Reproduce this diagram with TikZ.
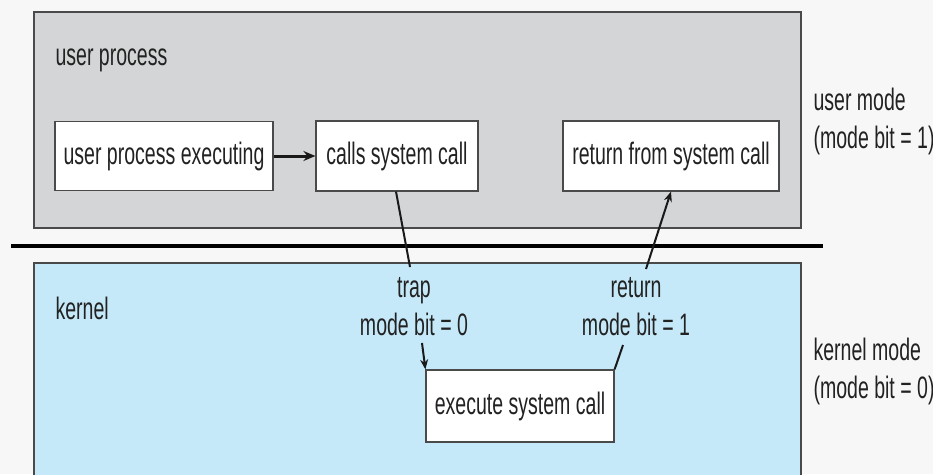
\documentclass[tikz,border=0pt]{standalone}
\usepackage{fontspec}
\setmainfont[FakeStretch=0.63]{Liberation Sans}
\usetikzlibrary{arrows.meta}
\definecolor{usergray}{HTML}{D4D5D6}
\definecolor{kernblue}{HTML}{C6E9F9}
\definecolor{edgegray}{HTML}{4A4A4A}
\definecolor{txt}{HTML}{222222}
\tikzset{
  txtstyle/.style={text=txt, font=\fontsize{31}{38}\selectfont},
  box/.style={draw=edgegray, line width=1.2pt, fill=white, inner sep=0pt, txtstyle},
  region/.style={draw=edgegray, line width=1.2pt},
  conn/.style={draw=black!90, line width=2pt},
  connarrow/.style={conn, -{Stealth[length=10pt,width=8pt]}},
}
\begin{document}
\begin{tikzpicture}[x=1pt,y=-1pt]
\useasboundingbox (0,0) rectangle (933,474);
\clip (0,0) rectangle (933,474);
\fill[white!97!black] (0,0) rectangle (933,474);
% regions
\draw[region, fill=usergray] (34,12) rectangle (801,228);
\draw[region, fill=kernblue] (34,263) rectangle (801,490);
\draw[line width=4pt, black] (11,246) -- (823,246);
% labels
\node[txtstyle, anchor=west] (up) at (52,60) {user process};
\node[txtstyle, anchor=west] (kn) at (52,308) {kernel};
\node[txtstyle, anchor=west, align=left] (um) at (810,121) {user mode\\(mode bit = 1)};
\node[txtstyle, anchor=west, align=left] (km) at (810,371) {kernel mode\\(mode bit = 0)};
% boxes
\node[box, minimum width=218pt, minimum height=69pt] (b1) at (164,156) {user process executing};
\node[box, minimum width=162pt, minimum height=70pt] (b2) at (397,156) {calls system call};
\node[box, minimum width=216pt, minimum height=70pt] (b3) at (671,156) {return from system call};
\node[box, minimum width=188pt, minimum height=72pt] (b4) at (520,406) {execute system call};
% trap / return labels
\node[txtstyle, align=center] (trap) at (414,307) {trap\\mode bit = 0};
\node[txtstyle, align=center] (ret) at (636,307) {return\\mode bit = 1};
\coordinate (t1) at (410,267);
\coordinate (t2) at (422,343);
\coordinate (r1) at (623,345);
\coordinate (r2) at (646,269);
% connectors
\draw[conn, line width=3pt, -{Stealth[length=12pt,width=10pt]}] (b1.east) -- (b2.west);
\draw[conn] ([xshift=-1pt]b2.south) -- (t1);
\draw[connarrow] (t2) -- (b4.north west);
\draw[conn] (b4.north east) -- (r1);
\draw[connarrow] (r2) -- (b3.south);
\end{tikzpicture}
\end{document}
